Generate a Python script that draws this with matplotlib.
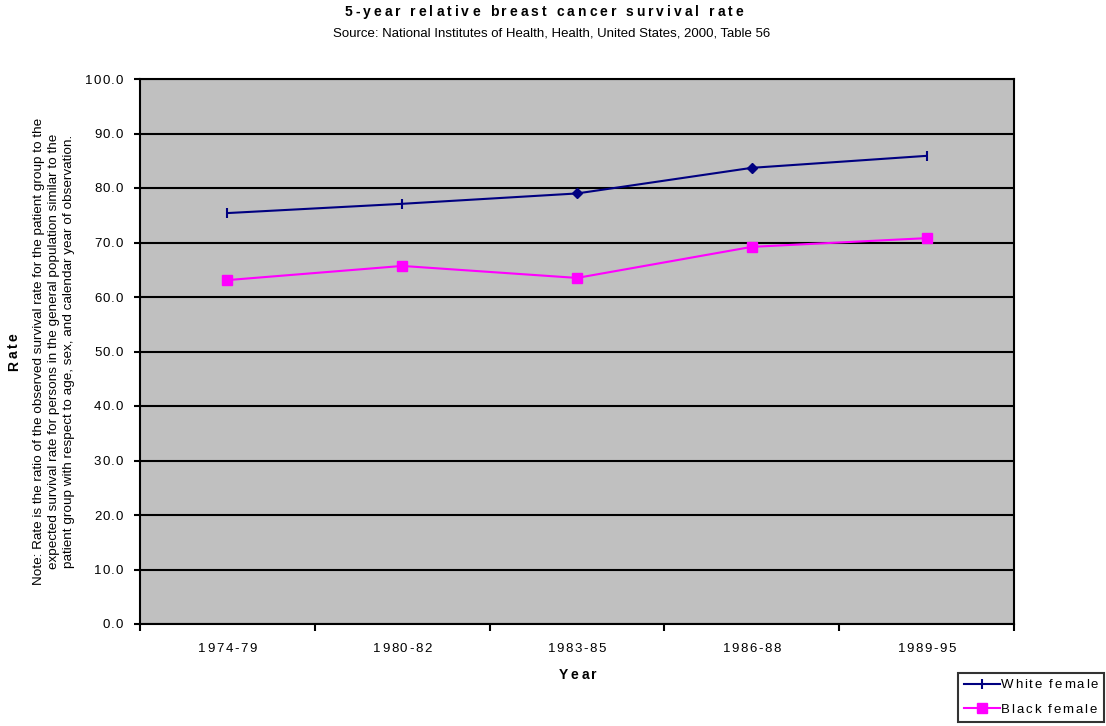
import matplotlib
matplotlib.use("Agg")
import matplotlib.pyplot as plt
from matplotlib.lines import Line2D
from matplotlib.text import Text
from matplotlib.transforms import Bbox
from matplotlib.font_manager import findfont, get_font

plt.rcParams['font.family'] = ['Liberation Sans', 'DejaVu Sans']

# Survival data (percent)
periods = ["1974-79", "1980-82", "1983-85", "1986-88", "1989-95"]
white_female = [75.4, 77.1, 79.0, 83.7, 85.9]
black_female = [63.1, 65.7, 63.5, 69.2, 70.8]
y_ticks = [0, 10, 20, 30, 40, 50, 60, 70, 80, 90, 100]

title = "5-year relative breast cancer survival rate"
subtitle = "Source: National Institutes of Health, Health, United States, 2000, Table 56"
note = ("Note: Rate is the ratio of the observed survival rate for the patient group to the\n"
        "expected survival rate for persons in the general population similar to the\n"
        "patient group with respect to age, sex, and calendar year of observation.")

NAVY = "#000080"
MAGENTA = "#FF00FF"


class TrackedText(Text):
    """Single-line text drawn with extra spacing (in pixels) between letters."""

    _tracking = 0.0

    def _advances(self, dpi):
        prop = self.get_fontproperties()
        font = get_font(findfont(prop))
        font.set_size(prop.get_size_in_points(), dpi)
        adv = []
        for ch in self.get_text():
            g = font.load_char(ord(ch))
            adv.append(g.linearHoriAdvance / 65536.0)
        return adv

    def _extra(self):
        return self._tracking * max(len(self.get_text()) - 1, 0)

    def _get_layout(self, renderer):
        bbox, info, descent = super()._get_layout(renderer)
        extra = self._extra()
        if extra:
            x0, y0, w, h = bbox.bounds
            vertical = abs(self.get_rotation() % 180 - 90) < 1
            ha = self.get_horizontalalignment()
            va = self.get_verticalalignment()
            if vertical:
                shift = {"center": extra / 2, "top": extra}.get(va, 0)
                bbox = Bbox.from_bounds(x0, y0 - shift, w, h + extra)
            else:
                shift = {"center": extra / 2, "right": extra}.get(ha, 0)
                bbox = Bbox.from_bounds(x0 - shift, y0, w + extra, h)
        return bbox, info, descent

    def draw(self, renderer):
        if renderer is not None:
            self._renderer = renderer
        s = self.get_text()
        if not self.get_visible() or not s:
            return
        fig = self.get_figure(root=True)
        prop = self.get_fontproperties()
        adv = self._advances(fig.dpi)
        total = sum(adv) + self._extra()
        _, h, d = renderer.get_text_width_height_descent("lp", prop, ismath=False)
        x, y = self.get_transform().transform(self.get_unitless_position())
        ha = self.get_horizontalalignment()
        va = self.get_verticalalignment()
        angle = self.get_rotation()
        vertical = abs(angle % 180 - 90) < 1

        start = {"left": 0.0, "center": -total / 2, "right": -total}
        if not vertical:
            x0 = x + start.get(ha, 0.0)
            base = {"baseline": y, "center": y - h / 2 + d,
                    "center_baseline": y - (h - d) / 2,
                    "top": y - (h - d), "bottom": y + d}.get(va, y)
        else:
            vmap = {"bottom": 0.0, "baseline": 0.0, "center": -total / 2,
                    "center_baseline": -total / 2, "top": -total}
            y0 = y + vmap.get(va, 0.0)
            base = {"center": x + h / 2 - d, "left": x + (h - d),
                    "right": x - d}.get(ha, x)

        _, canvas_h = renderer.get_canvas_width_height()
        renderer.open_group("text", self.get_gid())
        gc = renderer.new_gc()
        gc.set_foreground(self.get_color())
        gc.set_alpha(self.get_alpha())
        pos = 0.0
        for ch, a in zip(s, adv):
            if not ch.isspace():
                if vertical:
                    cx, cy = base, y0 + pos
                else:
                    cx, cy = x0 + pos, base
                renderer.draw_text(gc, cx, canvas_h - cy, ch, prop, angle,
                                   ismath=False, mtext=None)
            pos += a + self._tracking
        gc.restore()
        renderer.close_group("text")
        self.stale = False


def track(text, px):
    text.__class__ = TrackedText
    text._tracking = px
    return text


W, H = 1106, 726
fig = plt.figure(figsize=(W / 100, H / 100), dpi=100)
ax = fig.add_axes([140 / W, 1 - 624 / H, (1014 - 140) / W, (624 - 79) / H])
ax.set_facecolor("#C0C0C0")

x = list(range(len(periods)))

# White female: tick markers on most points, diamonds in the middle
ax.plot(x, white_female, color=NAVY, lw=1.5, marker="|", markersize=7,
        markeredgewidth=1.5, markevery=[0, 1, 4], zorder=4)
ax.plot(x, white_female, color=NAVY, lw=0, marker="D", markersize=5,
        markevery=[2, 3], zorder=4)
ax.plot(x, black_female, color=MAGENTA, lw=1.5, marker="s", markersize=7,
        zorder=4)

ax.set_xlim(-0.5, len(periods) - 0.5)
ax.set_ylim(0, 100)
ax.set_yticks(y_ticks)
ax.set_yticklabels([f"{v:.1f}" for v in y_ticks])
ax.yaxis.grid(True, color="black", lw=1.5)
ax.set_axisbelow(True)

# Category boundaries carry the tick marks; labels sit at the centres
ax.set_xticks([i - 0.5 for i in range(len(periods) + 1)])
ax.set_xticklabels([])
ax.set_xticks(x, minor=True)
ax.set_xticklabels(periods, minor=True)
ax.tick_params(axis="x", which="major", direction="out", length=5, width=1.5,
               color="black")
ax.tick_params(axis="x", which="minor", length=0, pad=14, labelsize=9.5)
ax.tick_params(axis="y", direction="out", length=4, width=1.5, pad=8,
               labelsize=9.5)

for t in ax.get_xticklabels(minor=True):
    track(t, 1.6)
for t in ax.get_yticklabels():
    track(t, 1.2)

for s in ax.spines.values():
    s.set_color("black")
    s.set_linewidth(1.5)

track(fig.text(544 / W, 1 - 12 / H, title, ha="center", va="center",
               fontsize=10, fontweight="bold"), 3.0)
fig.text(552 / W, 1 - 34 / H, subtitle, ha="center", va="center", fontsize=9.5)
track(fig.text(578 / W, 1 - 675 / H, "Year", ha="center", va="center",
               fontsize=10, fontweight="bold"), 2.5)
track(fig.text(14 / W, 1 - 352 / H, "Rate", ha="center", va="center",
               fontsize=10, fontweight="bold", rotation=90), 2.5)
fig.text(54 / W, 1 - 351 / H, note, ha="center", va="center", fontsize=9.7,
         rotation=90, multialignment="center", linespacing=1.36)

handles = [
    Line2D([], [], color=NAVY, lw=1.5, marker="|", markersize=7,
           markeredgewidth=1.5),
    Line2D([], [], color=MAGENTA, lw=1.5, marker="s", markersize=7),
]
leg = fig.legend(handles, ["White female", "Black female"],
                 loc="lower right", bbox_to_anchor=(1104 / W, 1 - 722 / H),
                 frameon=True, fancybox=False, fontsize=9.5,
                 handlelength=2.75, handletextpad=0.08, labelspacing=0.95,
                 borderpad=0.45, borderaxespad=0)
leg.get_frame().set_edgecolor("black")
leg.get_frame().set_linewidth(1.5)
for t in leg.get_texts():
    track(t, 1.8)

fig.savefig("out.png", dpi=100)
